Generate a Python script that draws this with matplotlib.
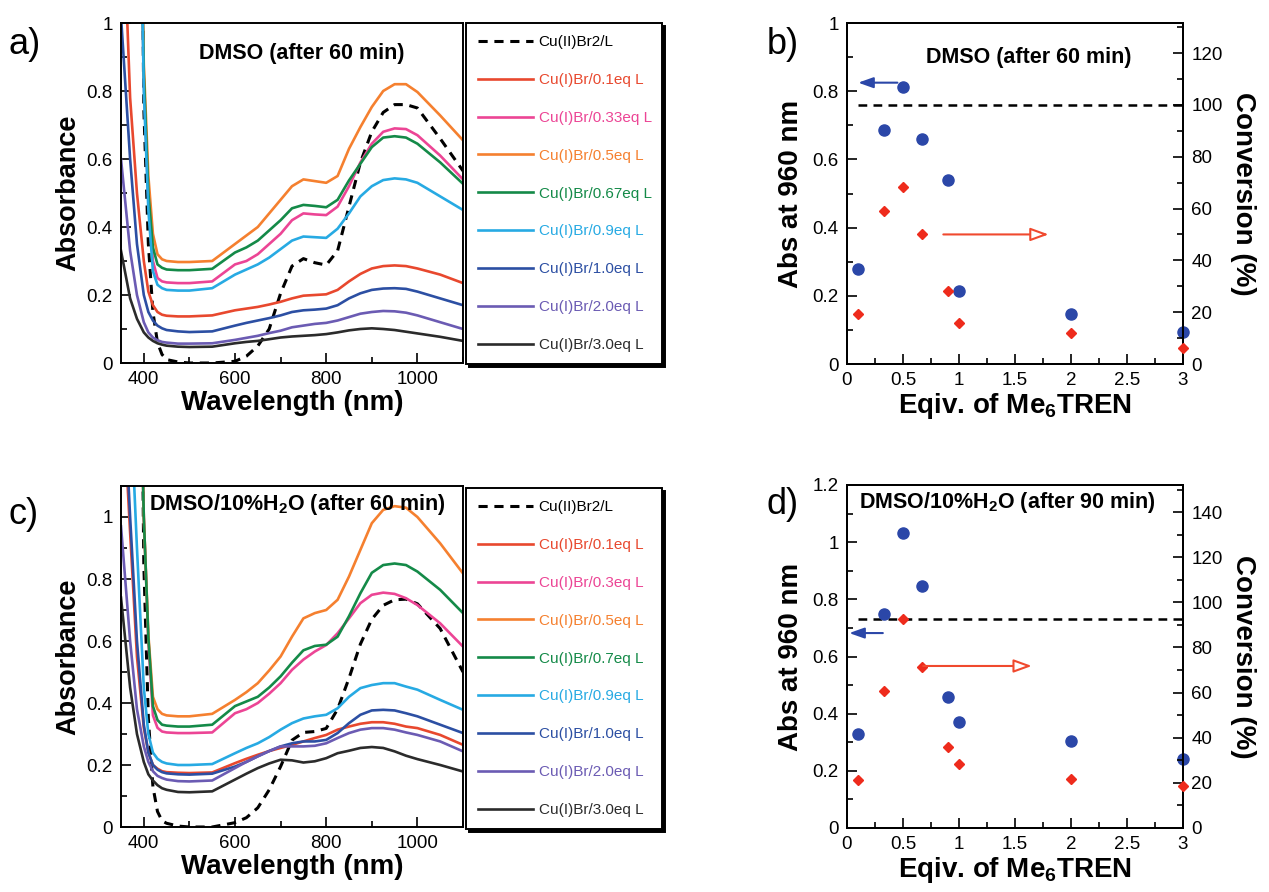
import matplotlib
matplotlib.use("Agg")
import matplotlib.pyplot as plt
from matplotlib.ticker import MultipleLocator, FormatStrFormatter

plt.rcParams['font.family'] = ['Liberation Sans', 'DejaVu Sans']
plt.rcParams['mathtext.fontset'] = 'custom'
plt.rcParams['mathtext.rm'] = 'Liberation Sans'
plt.rcParams['mathtext.bf'] = 'Liberation Sans:bold'

# wavelengths (nm) for all spectra
wl = [350, 370, 385, 400, 410, 420, 430, 440, 450, 475, 500, 550, 600, 625, 650, 675,
      700, 725, 750, 775, 800, 825, 850, 875, 900, 925, 950, 975, 1000, 1050, 1100]

# panel a - DMSO after 60 min
a_cu2 = [3.0, 3.0, 3.0, 0.75, 0.35, 0.15, 0.06, 0.025, 0.01, 0.003, 0.0, 0.0, 0.005, 0.02, 0.05, 0.10,
         0.205, 0.285, 0.307, 0.295, 0.288, 0.33, 0.46, 0.59, 0.68, 0.737, 0.76, 0.76, 0.75, 0.66, 0.565]
a_01 = [1.5, 0.78, 0.5, 0.3, 0.21, 0.17, 0.15, 0.142, 0.139, 0.137, 0.137, 0.14, 0.155, 0.16, 0.165, 0.172,
        0.18, 0.19, 0.198, 0.2, 0.202, 0.215, 0.24, 0.262, 0.278, 0.285, 0.287, 0.285, 0.278, 0.26, 0.235]
a_033 = [3.0, 3.0, 2.0, 0.83, 0.48, 0.30, 0.25, 0.24, 0.237, 0.235, 0.235, 0.24, 0.29, 0.30, 0.32, 0.35,
         0.38, 0.42, 0.44, 0.437, 0.435, 0.46, 0.52, 0.59, 0.645, 0.68, 0.69, 0.688, 0.67, 0.61, 0.54]
a_05 = [3.0, 3.0, 2.0, 0.88, 0.55, 0.38, 0.32, 0.305, 0.30, 0.297, 0.297, 0.30, 0.35, 0.375, 0.40, 0.44,
        0.48, 0.52, 0.54, 0.535, 0.53, 0.55, 0.63, 0.694, 0.753, 0.80, 0.82, 0.82, 0.797, 0.728, 0.655]
a_067 = [3.0, 3.0, 2.0, 0.85, 0.5, 0.34, 0.29, 0.28, 0.275, 0.273, 0.273, 0.277, 0.325, 0.34, 0.36, 0.39,
         0.42, 0.455, 0.465, 0.462, 0.458, 0.48, 0.537, 0.586, 0.635, 0.663, 0.667, 0.663, 0.645, 0.59, 0.527]
a_09 = [3.0, 3.0, 2.0, 0.80, 0.45, 0.27, 0.23, 0.22, 0.215, 0.213, 0.213, 0.22, 0.26, 0.275, 0.29, 0.31,
        0.335, 0.36, 0.372, 0.37, 0.368, 0.395, 0.44, 0.49, 0.52, 0.538, 0.543, 0.54, 0.53, 0.49, 0.45]
a_10 = [1.02, 0.6, 0.35, 0.2, 0.15, 0.125, 0.11, 0.102, 0.097, 0.093, 0.091, 0.093, 0.11, 0.118, 0.125, 0.132,
        0.14, 0.15, 0.155, 0.157, 0.16, 0.17, 0.19, 0.205, 0.215, 0.219, 0.22, 0.218, 0.21, 0.19, 0.17]
a_20 = [0.6, 0.33, 0.2, 0.12, 0.09, 0.075, 0.067, 0.062, 0.06, 0.057, 0.057, 0.058, 0.068, 0.074, 0.08, 0.088,
        0.095, 0.105, 0.11, 0.115, 0.118, 0.125, 0.135, 0.145, 0.15, 0.153, 0.152, 0.148, 0.14, 0.12, 0.10]
a_30 = [0.33, 0.19, 0.13, 0.09, 0.075, 0.065, 0.058, 0.054, 0.051, 0.048, 0.047, 0.048, 0.058, 0.062, 0.065, 0.07,
        0.075, 0.078, 0.08, 0.082, 0.085, 0.09, 0.096, 0.10, 0.102, 0.10, 0.097, 0.092, 0.087, 0.077, 0.065]

# panel c - DMSO/10%H2O after 60 min
c_cu2 = [3.0, 3.0, 3.0, 0.85, 0.35, 0.13, 0.05, 0.02, 0.012, 0.003, 0.0, 0.0, 0.014, 0.03, 0.062, 0.12,
         0.195, 0.28, 0.305, 0.308, 0.318, 0.38, 0.48, 0.59, 0.67, 0.715, 0.733, 0.735, 0.72, 0.64, 0.5]
c_01 = [1.5, 0.95, 0.55, 0.32, 0.24, 0.2, 0.188, 0.18, 0.177, 0.175, 0.174, 0.176, 0.206, 0.22, 0.233, 0.245,
        0.255, 0.265, 0.276, 0.287, 0.297, 0.314, 0.324, 0.333, 0.338, 0.338, 0.333, 0.324, 0.319, 0.297, 0.265]
c_03 = [3.0, 3.0, 2.0, 1.0, 0.6, 0.36, 0.32, 0.308, 0.305, 0.303, 0.303, 0.305, 0.367, 0.38, 0.40, 0.43,
        0.464, 0.507, 0.54, 0.566, 0.587, 0.625, 0.673, 0.722, 0.749, 0.756, 0.752, 0.738, 0.716, 0.657, 0.582]
c_05 = [3.0, 3.0, 2.0, 1.0, 0.62, 0.42, 0.38, 0.365, 0.36, 0.357, 0.357, 0.365, 0.41, 0.435, 0.464, 0.505,
        0.55, 0.614, 0.673, 0.69, 0.70, 0.733, 0.808, 0.894, 0.98, 1.023, 1.035, 1.03, 1.0, 0.915, 0.818]
c_07 = [3.0, 3.0, 2.0, 1.0, 0.61, 0.39, 0.345, 0.33, 0.327, 0.324, 0.324, 0.33, 0.39, 0.405, 0.42, 0.45,
        0.486, 0.53, 0.57, 0.584, 0.588, 0.614, 0.68, 0.754, 0.82, 0.845, 0.85, 0.845, 0.824, 0.765, 0.69]
c_09 = [2.0, 1.4, 0.9, 0.45, 0.3, 0.24, 0.22, 0.21, 0.205, 0.2, 0.2, 0.203, 0.238, 0.255, 0.27, 0.29,
        0.314, 0.335, 0.35, 0.357, 0.362, 0.383, 0.42, 0.448, 0.458, 0.464, 0.464, 0.453, 0.443, 0.41, 0.378]
c_10 = [1.6, 1.0, 0.6, 0.33, 0.24, 0.2, 0.185, 0.177, 0.173, 0.17, 0.169, 0.172, 0.195, 0.21, 0.228, 0.245,
        0.26, 0.27, 0.276, 0.276, 0.281, 0.303, 0.335, 0.362, 0.376, 0.378, 0.376, 0.367, 0.357, 0.33, 0.303]
c_20 = [0.97, 0.6, 0.38, 0.26, 0.21, 0.18, 0.165, 0.158, 0.153, 0.148, 0.147, 0.15, 0.19, 0.21, 0.228, 0.245,
        0.26, 0.26, 0.26, 0.262, 0.27, 0.287, 0.303, 0.314, 0.319, 0.319, 0.314, 0.305, 0.297, 0.276, 0.244]
c_30 = [0.74, 0.45, 0.3, 0.21, 0.17, 0.15, 0.135, 0.125, 0.12, 0.113, 0.112, 0.115, 0.153, 0.172, 0.19, 0.205,
        0.217, 0.215, 0.208, 0.212, 0.222, 0.238, 0.246, 0.255, 0.258, 0.255, 0.244, 0.23, 0.219, 0.20, 0.179]

labels_a = ["Cu(II)Br2/L", "Cu(I)Br/0.1eq L", "Cu(I)Br/0.33eq L", "Cu(I)Br/0.5eq L", "Cu(I)Br/0.67eq L",
            "Cu(I)Br/0.9eq L", "Cu(I)Br/1.0eq L", "Cu(I)Br/2.0eq L", "Cu(I)Br/3.0eq L"]
labels_c = ["Cu(II)Br2/L", "Cu(I)Br/0.1eq L", "Cu(I)Br/0.3eq L", "Cu(I)Br/0.5eq L", "Cu(I)Br/0.7eq L",
            "Cu(I)Br/0.9eq L", "Cu(I)Br/1.0eq L", "Cu(I)Br/2.0eq L", "Cu(I)Br/3.0eq L"]
colors = ["black", "#e8482e", "#ec4595", "#f5802f", "#148a48", "#27aae3", "#2c4fa3", "#6b5bb3", "#2b2b2b"]

# panels b and d
eq = [0.1, 0.33, 0.5, 0.67, 0.9, 1.0, 2.0, 3.0]
b_abs = [0.28, 0.685, 0.813, 0.66, 0.54, 0.214, 0.146, 0.094]
b_conv = [19.2, 59, 68.5, 50, 28, 16, 12, 6]
b_cu2 = 0.76
d_abs = [0.329, 0.749, 1.032, 0.847, 0.458, 0.371, 0.304, 0.241]
d_conv = [21.3, 60.7, 92.6, 71.3, 35.9, 28.4, 21.7, 18.6]
d_cu2 = 0.73

W, H = 1269, 892
fig = plt.figure(figsize=(W / 100, H / 100), dpi=100)


def box(l, t, r, b):
    return [l / W, 1 - b / H, (r - l) / W, (b - t) / H]


def style(ax):
    ax.tick_params(which='both', direction='in', labelsize=13.5, width=1.2, pad=6)
    ax.tick_params(which='major', length=7)
    ax.tick_params(which='minor', length=4)
    for s in ax.spines.values():
        s.set_linewidth(1.4)


def spectra(rect, leg_rect, series, labels, ymax, title, title_x, title_y, letter, ly):
    ax = fig.add_axes(box(*rect))
    handles = []
    for k, y in enumerate(series):
        if k == 0:
            h, = ax.plot(wl, y, color=colors[k], lw=2.2, ls=(0, (3, 2.2)), label=labels[k])
        else:
            h, = ax.plot(wl, y, color=colors[k], lw=1.9, label=labels[k])
        handles.append(h)
    ax.set_xlim(350, 1100)
    ax.set_ylim(0, ymax)
    ax.xaxis.set_major_locator(MultipleLocator(200))
    ax.xaxis.set_minor_locator(MultipleLocator(100))
    ax.yaxis.set_major_locator(MultipleLocator(0.2))
    ax.yaxis.set_minor_locator(MultipleLocator(0.1))
    ax.yaxis.set_major_formatter(FormatStrFormatter('%g'))
    style(ax)
    ax.set_xlabel("Wavelength (nm)", fontsize=20, fontweight='bold', labelpad=1)
    ax.set_ylabel("Absorbance", fontsize=19.5, fontweight='bold', labelpad=4)
    ax.text(title_x, title_y, title, fontsize=15.5, fontweight='bold', ha='center', va='center')
    fig.text(9 / W, 1 - ly / H, letter, fontsize=26, va='center')
    l, t, r, b = leg_rect
    leg = ax.legend(handles=handles, loc='upper left', bbox_to_anchor=(l / W, 1 - t / H, (r - l) / W, 0),
                    bbox_transform=fig.transFigure, mode='expand', borderaxespad=0, fontsize=11,
                    labelcolor='linecolor', handlelength=3.6, handletextpad=0.35, labelspacing=1.56,
                    borderpad=0.8, fancybox=False, shadow={'color': 'black', 'alpha': 1.0},
                    edgecolor='black', framealpha=1)
    leg.get_frame().set_linewidth(1.4)
    return ax


spectra((121, 23, 463, 363), (466, 23, 662, 363),
        [a_cu2, a_01, a_033, a_05, a_067, a_09, a_10, a_20, a_30], labels_a, 1.0,
        "DMSO (after 60 min)", 746, 0.91, "a)", 45)
spectra((121, 486, 463, 827), (466, 488, 662, 823),
        [c_cu2, c_01, c_03, c_05, c_07, c_09, c_10, c_20, c_30], labels_c, 1.1,
        r"DMSO/10%H$_\mathbf{2}$O (after 60 min)", 736, 1.04, "c)", 515)


def conversion(rect, absv, conv, cu2, ymax, ymax2, title, title_x, title_y, letter, ly,
               blue_arrow, red_arrow):
    ax = fig.add_axes(box(*rect))
    ax.plot(eq, absv, 'o', color='#2b47a8', ms=8, zorder=3, clip_on=False)
    ax.hlines(cu2, 0.1, 3.0, colors='black', linestyles=(0, (3.5, 2.5)), lw=1.8)
    ax.set_xlim(0, 3)
    ax.set_ylim(0, ymax)
    ax.xaxis.set_major_locator(MultipleLocator(0.5))
    ax.xaxis.set_minor_locator(MultipleLocator(0.25))
    ax.xaxis.set_major_formatter(FormatStrFormatter('%g'))
    ax.yaxis.set_major_locator(MultipleLocator(0.2))
    ax.yaxis.set_minor_locator(MultipleLocator(0.1))
    ax.yaxis.set_major_formatter(FormatStrFormatter('%g'))
    style(ax)
    ax.set_xlabel(r"Eqiv. of Me$_\mathbf{6}$TREN", fontsize=20, fontweight='bold', labelpad=1)
    ax.set_ylabel("Abs at 960 nm", fontsize=20, fontweight='bold', labelpad=6)
    ax2 = ax.twinx()
    ax2.plot(eq, conv, 'D', color='#ee2b1c', ms=5.5, zorder=3, clip_on=False)
    ax2.set_ylim(0, ymax2)
    ax2.yaxis.set_major_locator(MultipleLocator(20))
    ax2.yaxis.set_minor_locator(MultipleLocator(10))
    style(ax2)
    ax2.set_ylabel("Conversion (%)", fontsize=20, fontweight='bold', rotation=270, labelpad=24)
    x0, x1, y = blue_arrow
    ax.annotate("", xy=(x1, y), xytext=(x0, y),
                arrowprops=dict(arrowstyle='-|>,head_length=0.9,head_width=0.32', color='#2b47a8',
                                lw=1.5, shrinkA=0, shrinkB=0))
    x0, x1, y = red_arrow
    ax2.annotate("", xy=(x1, y), xytext=(x0, y),
                 arrowprops=dict(arrowstyle='-|>,head_length=1.1,head_width=0.4', ec='#f0492e', fc='white',
                                 lw=1.5, shrinkA=0, shrinkB=0))
    ax.text(title_x, title_y, title, fontsize=15.5, fontweight='bold', ha='center', va='center')
    fig.text(767 / W, 1 - ly / H, letter, fontsize=26, va='center')
    return ax


conversion((847, 23, 1183, 364), b_abs, b_conv, b_cu2, 1.0, 131.6,
           "DMSO (after 60 min)", 1.62, 0.9, "b)", 45, (0.45, 0.1, 0.825), (0.86, 1.8, 50))
conversion((847, 485, 1183, 828), d_abs, d_conv, d_cu2, 1.2, 152,
           r"DMSO/10%H$_\mathbf{2}$O (after 90 min)", 1.43, 1.14, "d)", 505, (0.32, 0.02, 0.682), (0.68, 1.65, 71.8))

fig.savefig("out.png", dpi=100)
